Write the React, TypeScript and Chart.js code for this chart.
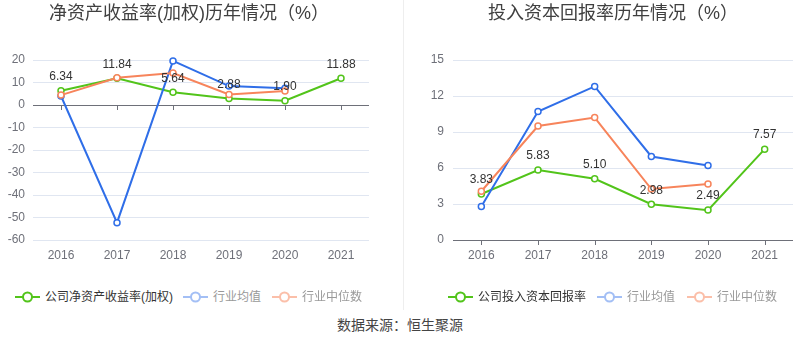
import React, { useEffect, useRef } from 'react';
import { Chart, registerables } from 'chart.js';

Chart.register(...registerables);

const FONT = "'Liberation Sans', 'Noto Sans CJK SC', Arial, sans-serif";

const years = ['2016', '2017', '2018', '2019', '2020', '2021'];

const roeCompany = [6.34, 11.84, 5.64, 2.88, 1.9, 11.88];
const roeIndustryAvg = [4.0, -52.3, 19.6, 8.4, 7.4, null];
const roeIndustryMedian = [4.4, 12.1, 14.2, 4.7, 6.2, null];
const roeAxis = [-60, 20, 10];

const roicCompany = [3.83, 5.83, 5.1, 2.98, 2.49, 7.57];
const roicIndustryAvg = [2.8, 10.7, 12.8, 6.96, 6.2, null];
const roicIndustryMedian = [4.06, 9.5, 10.2, 4.25, 4.67, null];
const roicAxis = [0, 15, 3];

const GREEN = '#52c41a';
const BLUE = '#2f6ee8';
const ORANGE = '#f7845b';

type PanelProps = {
  left: number;
  labels: string[];
  company: (number | null)[];
  avg: (number | null)[];
  median: (number | null)[];
  axis: number[];
  yWidth: number;
  padRight: number;
  tickPad: number;
};

function Panel(p: PanelProps) {
  const ref = useRef<HTMLCanvasElement>(null);
  useEffect(() => {
    if (!ref.current) return;
    const labelPlugin = {
      id: 'valueLabels',
      afterDatasetsDraw(chart: any) {
        const ctx = chart.ctx;
        const meta = chart.getDatasetMeta(0);
        ctx.save();
        ctx.font = `12px ${FONT}`;
        ctx.fillStyle = '#333';
        ctx.textAlign = 'center';
        ctx.textBaseline = 'middle';
        meta.data.forEach((pt: any, i: number) => {
          const v = p.company[i];
          if (v == null) return;
          ctx.fillText(v.toFixed(2), pt.x, pt.y - 14);
        });
        ctx.restore();
      },
    };
    const tickPlugin = {
      id: 'zeroTicks',
      beforeDatasetsDraw(chart: any) {
        const ctx = chart.ctx;
        const y0 = Math.round(chart.scales.y.getPixelForValue(0));
        const xs = chart.scales.x;
        ctx.save();
        ctx.strokeStyle = '#6e7079';
        ctx.lineWidth = 1;
        ctx.beginPath();
        p.labels.forEach((_, i) => {
          const x = Math.round(xs.getPixelForValue(i)) + 0.5;
          ctx.moveTo(x, y0);
          ctx.lineTo(x, y0 + 5);
        });
        ctx.stroke();
        ctx.restore();
      },
    };
    const ds = (data: (number | null)[], color: string, order: number) => ({
      data,
      borderColor: color,
      backgroundColor: '#fff',
      pointBackgroundColor: '#fff',
      pointBorderColor: color,
      pointBorderWidth: 1.5,
      pointRadius: 3,
      borderWidth: 2,
      tension: 0,
      clip: false,
      order,
    });
    const chart = new Chart(ref.current, {
      type: 'line',
      data: {
        labels: p.labels,
        datasets: [
          ds(p.company, GREEN, 2),
          ds(p.avg, BLUE, 1),
          ds(p.median, ORANGE, 0),
        ],
      },
      options: {
        animation: false,
        responsive: false,
        events: [],
        layout: { padding: { top: 60, right: p.padRight, left: 0, bottom: 0 } },
        plugins: { legend: { display: false }, tooltip: { enabled: false }, title: { display: false } },
        scales: {
          x: {
            offset: true,
            grid: { display: false, drawTicks: false },
            border: { display: false },
            ticks: { color: '#6e7079', font: { size: 12, family: FONT }, padding: 8 },
            afterFit: (s: any) => { s.height = 30; },
          },
          y: {
            min: p.axis[0],
            max: p.axis[1],
            ticks: { stepSize: p.axis[2], color: '#6e7079', font: { size: 12, family: FONT }, padding: p.tickPad },
            grid: {
              drawTicks: false,
              color: (c: any) => (c.tick && c.tick.value === 0 ? '#6e7079' : '#e0e6f1'),
            },
            border: { display: false },
            afterFit: (s: any) => { s.width = p.yWidth; },
          },
        },
      },
      plugins: [tickPlugin, labelPlugin],
    } as any);
    return () => chart.destroy();
  }, []);
  return (
    <canvas
      ref={ref}
      width={400}
      height={270}
      style={{ position: 'absolute', left: p.left, top: 0, width: 400, height: 270, display: 'block' }}
    />
  );
}

function LegendIcon({ color }: { color: string }) {
  return (
    <svg width={25} height={12} style={{ display: 'block' }}>
      <line x1={0} y1={6} x2={25} y2={6} stroke={color} strokeWidth={2} />
      <circle cx={12.5} cy={6} r={4.5} fill="#fff" stroke={color} strokeWidth={2} />
    </svg>
  );
}

function LegendItem({ x, y, color, text, textColor }: any) {
  return (
    <div style={{ position: 'absolute', left: x, top: y - 8, height: 16, display: 'flex', alignItems: 'center', whiteSpace: 'nowrap' }}>
      <LegendIcon color={color} />
      <span style={{ marginLeft: 5, fontSize: 12, color: textColor, fontFamily: FONT, lineHeight: '16px' }}>{text}</span>
    </div>
  );
}

export default function App() {
  const textStyle: React.CSSProperties = { position: 'absolute', fontFamily: FONT, whiteSpace: 'nowrap' };
  return (
    <div style={{ position: 'absolute', left: 0, top: 0, width: 800, height: 358, background: '#fff', overflow: 'hidden' }}>
      <Panel left={0} labels={years} company={roeCompany} avg={roeIndustryAvg} median={roeIndustryMedian} axis={roeAxis} yWidth={33} padRight={31} tickPad={8} />
      <Panel left={400} labels={years} company={roicCompany} avg={roicIndustryAvg} median={roicIndustryMedian} axis={roicAxis} yWidth={53} padRight={7} tickPad={9} />
      <div style={{ position: 'absolute', left: 403, top: 0, width: 1, height: 310, background: '#eeeeee' }} />
      <div style={{ ...textStyle, left: 49, top: 0, fontSize: 18, lineHeight: '26px', color: '#404040' }}>净资产收益率(加权)历年情况（%）</div>
      <div style={{ ...textStyle, left: 488, top: 0, fontSize: 18, lineHeight: '26px', color: '#404040' }}>投入资本回报率历年情况（%）</div>

      <LegendItem x={15} y={297} color={GREEN} text="公司净资产收益率(加权)" textColor="#333" />
      <LegendItem x={183} y={297} color="#a3bff5" text="行业均值" textColor="#999" />
      <LegendItem x={272} y={297} color="#fbbfa9" text="行业中位数" textColor="#999" />

      <LegendItem x={448} y={297} color={GREEN} text="公司投入资本回报率" textColor="#333" />
      <LegendItem x={597} y={297} color="#a3bff5" text="行业均值" textColor="#999" />
      <LegendItem x={687} y={297} color="#fbbfa9" text="行业中位数" textColor="#999" />

      <div style={{ ...textStyle, left: 337, top: 316, fontSize: 14, lineHeight: '18px', color: '#444' }}>数据来源：恒生聚源</div>
    </div>
  );
}
